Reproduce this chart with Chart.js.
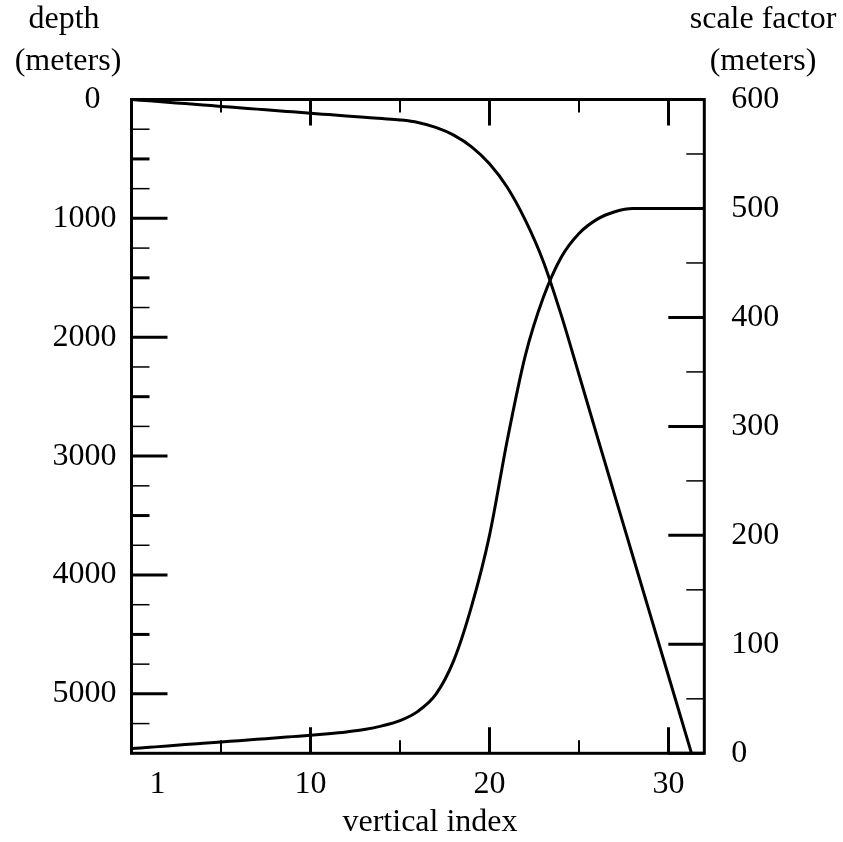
<!DOCTYPE html>
<html>
<head>
<meta charset="utf-8">
<title>depth and scale factor vs vertical index</title>
<script src="https://cdn.jsdelivr.net/npm/chart.js@4.4.0/dist/chart.umd.min.js"></script>
<style>
  html, body { margin: 0; padding: 0; background: #ffffff; }
  #wrap { width: 843px; height: 842px; position: relative; }
</style>
</head>
<body>
<div id="wrap"><canvas id="chart"></canvas></div>
<script>
// =======================
// Datos
const levelIndex = [
  0, 1, 2, 3, 4, 5, 6, 7, 8, 9, 10, 11, 12, 13, 14, 15, 16,
  17, 18, 19, 20, 21, 22, 23, 24, 25, 26, 27, 28, 29, 30, 31, 32,
];
const depthMeters = [
  0, 11.5, 23, 34.5, 46, 58, 69, 81, 92, 104, 116, 127, 138, 149, 160, 172,
  193, 235, 300, 398, 540, 740, 1015, 1360, 1810, 2315, 2825, 3332, 3838,
  4344, 4850, 5356, 5862,
];
const scaleFactorMeters = [
  4.3, 5.5, 6.7, 8, 9.2, 10.4, 11.6, 12.8, 14.1, 15.3, 16.5, 17.9, 19.6, 21.8,
  25.2, 30, 38.5, 54, 85, 135, 200, 288, 365, 418, 455, 477, 490, 497, 500,
  500, 500, 500, 500,
];

// Marcas de los ejes
const xMajorTicks = [10, 20, 30];
const xMinorTicks = [5, 15, 25];
const xTickLabels = ["1", "10", "20", "30"];
const xTickLabelValues = [1, 10, 20, 30];
const depthTickLabels = ["0", "1000", "2000", "3000", "4000", "5000"];
const depthTickValues = [0, 1000, 2000, 3000, 4000, 5000];
const depthMidTicks = [500, 1500, 2500, 3500, 4500];
const depthMinorTicks = [250, 750, 1250, 1750, 2250, 2750, 3250, 3750, 4250, 4750, 5250];
const scaleTickLabels = ["0", "100", "200", "300", "400", "500", "600"];
const scaleTickValues = [0, 100, 200, 300, 400, 500, 600];
const scaleMinorTicks = [50, 150, 250, 350, 450, 550];

const FONT = '32px "Liberation Serif", "DejaVu Serif", serif';

const toPoints = (xs, ys) => xs.map((x, i) => ({ x, y: ys[i] }));

// =======================
// Marco, marcas internas y textos
const framePlugin = {
  id: "frameTicks",
  afterDraw(chart) {
    const { ctx, chartArea: a, scales } = chart;
    const sx = scales.x;
    const yl = scales.yDepth;
    const yr = scales.yScale;
    ctx.save();
    ctx.strokeStyle = "#000";
    ctx.lineCap = "butt";

    const hTick = (px, len, w) => {
      ctx.lineWidth = w;
      ctx.beginPath();
      ctx.moveTo(px, a.bottom);
      ctx.lineTo(px, a.bottom - len);
      ctx.moveTo(px, a.top);
      ctx.lineTo(px, a.top + len);
      ctx.stroke();
    };
    const lTick = (py, len, w) => {
      ctx.lineWidth = w;
      ctx.beginPath();
      ctx.moveTo(a.left, py);
      ctx.lineTo(a.left + len, py);
      ctx.stroke();
    };
    const rTick = (py, len, w) => {
      ctx.lineWidth = w;
      ctx.beginPath();
      ctx.moveTo(a.right, py);
      ctx.lineTo(a.right - len, py);
      ctx.stroke();
    };

    xMajorTicks.forEach((v) => hTick(sx.getPixelForValue(v), 26, 3));
    xMinorTicks.forEach((v) => hTick(sx.getPixelForValue(v), 13, 2));
    depthTickValues.forEach((v) => lTick(yl.getPixelForValue(v), 36, 3));
    depthMidTicks.forEach((v) => lTick(yl.getPixelForValue(v), 18, 3));
    depthMinorTicks.forEach((v) => lTick(yl.getPixelForValue(v), 18, 1.5));
    scaleTickValues.forEach((v) => rTick(yr.getPixelForValue(v), 36, 3));
    scaleMinorTicks.forEach((v) => rTick(yr.getPixelForValue(v), 18, 1.5));

    // marco
    ctx.lineWidth = 3;
    ctx.strokeRect(a.left, a.top, a.right - a.left, a.bottom - a.top);

    // textos
    ctx.fillStyle = "#000";
    ctx.font = FONT;
    ctx.textBaseline = "middle";

    ctx.textAlign = "center";
    xTickLabels.forEach((t, i) => {
      const px = sx.getPixelForValue(xTickLabelValues[i]);
      if (i === 0) {
        ctx.textAlign = "left";
        ctx.fillText(t, px, a.bottom + 31);
        ctx.textAlign = "center";
      } else {
        ctx.fillText(t, px, a.bottom + 31);
      }
    });

    ctx.textAlign = "right";
    depthTickLabels.forEach((t, i) => {
      const py = yl.getPixelForValue(depthTickValues[i]);
      ctx.fillText(t, i === 0 ? a.left - 31 : a.left - 15, py);
    });

    ctx.textAlign = "left";
    scaleTickLabels.forEach((t, i) => {
      ctx.fillText(t, a.right + 27, yr.getPixelForValue(scaleTickValues[i]));
    });

    // títulos de los ejes
    ctx.textAlign = "center";
    ctx.fillText("depth", 64, 20);
    ctx.fillText("(meters)", 68, 62);
    ctx.fillText("scale factor", 763, 20);
    ctx.fillText("(meters)", 763, 62);
    ctx.fillText("vertical index", 430, a.bottom + 69);
    ctx.restore();
  },
};

// =======================
// Gráfico
new Chart(document.getElementById("chart"), {
  type: "scatter",
  data: {
    datasets: [
      {
        label: "depth",
        data: toPoints(levelIndex, depthMeters),
        yAxisID: "yDepth",
        showLine: true,
        borderColor: "#000",
        borderWidth: 3,
        pointRadius: 0,
        cubicInterpolationMode: "monotone",
      },
      {
        label: "scale factor",
        data: toPoints(levelIndex, scaleFactorMeters),
        yAxisID: "yScale",
        showLine: true,
        borderColor: "#000",
        borderWidth: 3,
        pointRadius: 0,
        cubicInterpolationMode: "monotone",
      },
    ],
  },
  options: {
    responsive: true,
    maintainAspectRatio: false,
    animation: { duration: 0 },
    layout: { padding: { left: 131.5, top: 99.5, right: 138.7, bottom: 88.7 } },
    plugins: { legend: { display: false }, tooltip: { enabled: false } },
    scales: {
      x: { type: "linear", min: 0, max: 32, display: false },
      yDepth: { type: "linear", position: "left", min: 0, max: 5500, reverse: true, display: false },
      yScale: { type: "linear", position: "right", min: 0, max: 600, display: false },
    },
  },
  plugins: [framePlugin],
});
</script>
</body>
</html>
